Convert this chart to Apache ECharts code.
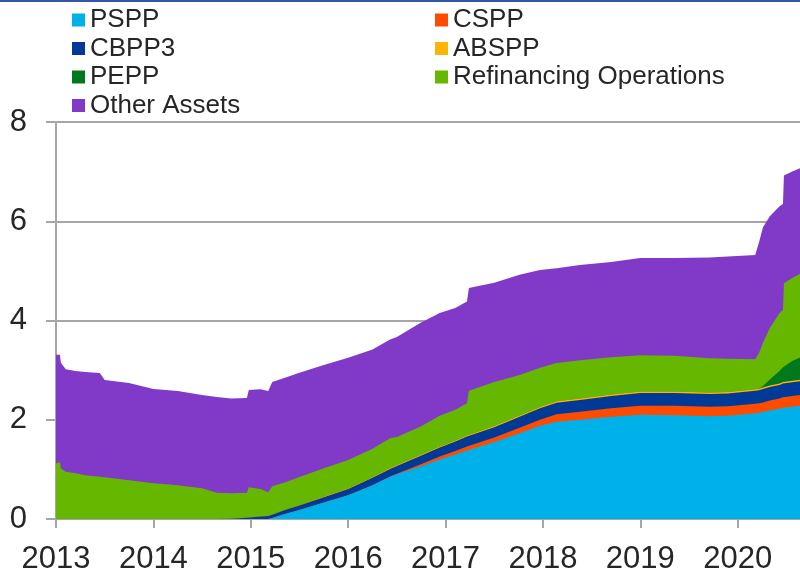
<!DOCTYPE html>
<html>
<head>
<meta charset="utf-8">
<script src="https://cdn.jsdelivr.net/npm/echarts@6/dist/echarts.min.js"></script>
<style>
html,body{margin:0;padding:0;background:#fff;}
#chart{width:800px;height:570px;}
</style>
</head>
<body>
<div id="chart"></div>
<script>
// Decimal years
const dates = [2013.0, 2013.04, 2013.05, 2013.1, 2013.2, 2013.3, 2013.45, 2013.5, 2013.75, 2014.0,
  2014.25, 2014.5, 2014.65, 2014.8, 2014.96, 2014.98, 2015.1, 2015.18, 2015.22, 2015.35,
  2015.5, 2015.75, 2016.0, 2016.25, 2016.43, 2016.5, 2016.74, 2016.94, 2017.1, 2017.22,
  2017.24, 2017.5, 2017.76, 2017.97, 2018.14, 2018.38, 2018.7, 2019.0, 2019.35, 2019.71,
  2019.9, 2020.18, 2020.2, 2020.22, 2020.26, 2020.33, 2020.43, 2020.465, 2020.475, 2020.56, 2020.64];

const pspp = [0,0,0,0,0,0,0,0,0,0, 0,0,0,0,0,0,0,0,0.02,0.10,
  0.18,0.33,0.48,0.68,0.85,0.90,1.06,1.20,1.30,1.38,
  1.39,1.55,1.73,1.88,1.96,2.00,2.06,2.10,2.09,2.07,
  2.08,2.13,2.13,2.14,2.16,2.19,2.22,2.24,2.24,2.26,2.28];

const cspp = [0,0,0,0,0,0,0,0,0,0, 0,0,0,0,0,0,0,0,0,0,
  0,0,0,0,0.005,0.01,0.04,0.06,0.07,0.08,
  0.08,0.09,0.11,0.12,0.15,0.16,0.17,0.18,0.19,0.19,
  0.19,0.19,0.19,0.19,0.19,0.20,0.21,0.215,0.215,0.22,0.22];

const cbpp3 = [0,0,0,0,0,0,0,0,0,0, 0,0,0,0.005,0.025,0.03,0.05,0.06,0.065,0.08,
  0.09,0.11,0.125,0.15,0.155,0.16,0.17,0.18,0.19,0.20,
  0.20,0.21,0.22,0.23,0.235,0.24,0.25,0.26,0.26,0.26,
  0.26,0.265,0.265,0.265,0.27,0.27,0.27,0.275,0.275,0.275,0.275];

const abspp = [0,0,0,0,0,0,0,0,0,0, 0,0,0,0,0.002,0.002,0.004,0.005,0.006,0.007,
  0.008,0.012,0.015,0.018,0.019,0.02,0.02,0.022,0.023,0.024,
  0.024,0.025,0.025,0.026,0.027,0.027,0.028,0.03,0.03,0.03,
  0.03,0.03,0.03,0.03,0.03,0.03,0.03,0.03,0.03,0.03,0.03];

const pepp = [0,0,0,0,0,0,0,0,0,0, 0,0,0,0,0,0,0,0,0,0,
  0,0,0,0,0,0,0,0,0,0,
  0,0,0,0,0,0,0,0,0,0,
  0,0,0,0.005,0.03,0.12,0.25,0.30,0.31,0.40,0.45];

const refi = [1.12,1.15,1.02,0.95,0.92,0.88,0.85,0.84,0.78,0.72,
  0.68,0.62,0.53,0.515,0.50,0.61,0.55,0.475,0.57,0.55,
  0.57,0.57,0.57,0.57,0.60,0.56,0.57,0.62,0.62,0.65,
  0.89,0.885,0.815,0.79,0.77,0.77,0.75,0.73,0.72,0.69,
  0.67,0.605,0.625,0.72,0.87,1.04,1.17,1.15,1.68,1.67,1.685];

const other = [2.19,2.16,2.13,2.07,2.06,2.08,2.09,1.96,1.96,1.90,
  1.90,1.88,1.93,1.91,1.91,1.96,2.01,2.04,2.10,2.11,
  2.10,2.08,2.06,2.00,1.99,2.02,2.09,2.07,2.05,2.05,
  2.07,2.00,2.02,1.97,1.91,1.92,1.92,1.96,1.97,2.03,
  2.06,2.10,2.09,2.23,2.33,2.25,2.15,2.14,2.17,2.15,2.13];

const yearLabels = ['2013','2014','2015','2016','2017','2018','2019','2020'];
const yTicks = [0, 2, 4, 6, 8];

const seriesNames = ['PSPP','CSPP','CBPP3','ABSPP','PEPP','Refinancing Operations','Other Assets'];
const seriesValues = [pspp, cspp, cbpp3, abspp, pepp, refi, other];
const colors = ['#00B0E8','#FF4B00','#003A96','#FFB400','#00781E','#65B700','#8139C7'];

// Stack the series (cumulative tops), then draw top layer first so lower layers cover it.
const cumulative = [];
seriesValues.forEach((vals, k) => {
  cumulative.push(vals.map((v, i) => (k === 0 ? 0 : cumulative[k - 1][i]) + v));
});

const chart = echarts.init(document.getElementById('chart'), null, {renderer:'canvas'});
const font = 'Liberation Sans, Arial, sans-serif';

const series = [];
for (let k = seriesNames.length - 1; k >= 0; k--) {
  series.push({
    name: seriesNames[k],
    type: 'line',
    showSymbol: false,
    symbol: 'none',
    lineStyle: {width: 0},
    areaStyle: {color: colors[k], opacity: 1},
    itemStyle: {color: colors[k]},
    data: dates.map((d, i) => [d, cumulative[k][i]])
  });
}

const legendText = {fontFamily: font, fontSize: 26, color: '#262626', lineHeight: 28};

chart.setOption({
  animation: false,
  backgroundColor: '#ffffff',
  graphic: [{type:'rect', shape:{x:0,y:0,width:800,height:2}, style:{fill:'#3356A6'}}],
  legend: [
    {left: 67, top: 1, orient: 'vertical', itemWidth: 13, itemHeight: 13, itemGap: 0.5, icon: 'rect',
     textStyle: legendText, data: ['PSPP','CBPP3','PEPP','Other Assets']},
    {left: 430, top: 1, orient: 'vertical', itemWidth: 13, itemHeight: 13, itemGap: 0.5, icon: 'rect',
     textStyle: legendText, data: ['CSPP','ABSPP','Refinancing Operations']}
  ],
  grid: {left: 56, right: 0, top: 122, bottom: 51, containLabel: false, outerBoundsMode: 'none'},
  xAxis: {
    type: 'value', min: 2013, max: 2020.64, interval: 1,
    axisLine: {show: true, lineStyle: {color: '#A6A6A6', width: 2}},
    axisTick: {show: true, length: 9, lineStyle: {color: '#A6A6A6', width: 2}},
    axisLabel: {
      fontFamily: font, fontSize: 31, color: '#262626', margin: 25, showMaxLabel: false,
      formatter: v => { const i = Math.round(v) - 2013; return (Math.abs(v - Math.round(v)) < 1e-6 && yearLabels[i]) ? yearLabels[i] : ''; }
    },
    splitLine: {show: false}
  },
  yAxis: {
    type: 'value', min: yTicks[0], max: yTicks[yTicks.length-1], interval: 2,
    axisLine: {show: true, lineStyle: {color: '#A6A6A6', width: 2}},
    axisTick: {show: true, length: 10, lineStyle: {color: '#A6A6A6', width: 2}},
    axisLabel: {fontFamily: font, fontSize: 31, color: '#262626', margin: 29},
    splitLine: {show: true, lineStyle: {color: '#A6A6A6', width: 2}}
  },
  series: series
});
</script>
</body>
</html>
